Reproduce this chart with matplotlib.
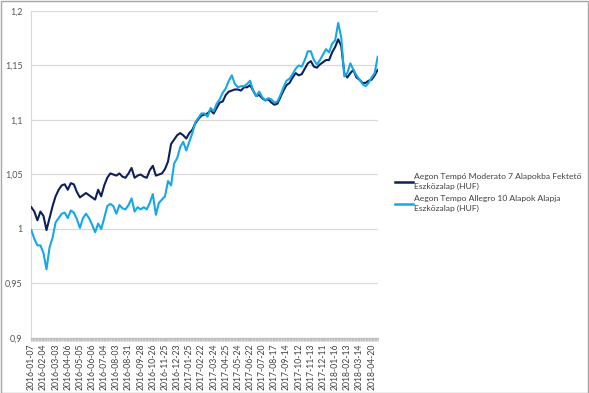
import numpy as np
import matplotlib
matplotlib.use("Agg")
import matplotlib.pyplot as plt
from matplotlib.patches import Rectangle
from matplotlib.ticker import MultipleLocator

# napi kategóriák száma és a címkék (minden 20. kereskedési nap)
N_DAYS = 571
STEP = 5  # az értékek minden 5. napra vannak leolvasva

tick_labels = [
    "2016-01-07", "2016-02-04", "2016-03-03", "2016-04-06", "2016-05-05",
    "2016-06-06", "2016-07-04", "2016-08-03", "2016-08-31", "2016-09-28",
    "2016-10-26", "2016-11-25", "2016-12-23", "2017-01-25", "2017-02-22",
    "2017-03-24", "2017-04-25", "2017-05-24", "2017-06-22", "2017-07-20",
    "2017-08-17", "2017-09-14", "2017-10-12", "2017-11-13", "2017-12-11",
    "2018-01-16", "2018-02-13", "2018-03-14", "2018-04-20",
]

moderato = [
    1.020, 1.016, 1.008, 1.016, 1.012, 0.999, 1.010, 1.021, 1.030, 1.036,
    1.040, 1.041, 1.036, 1.042, 1.041, 1.034, 1.029, 1.031, 1.033, 1.031,
    1.029, 1.027, 1.036, 1.030, 1.040, 1.047, 1.051, 1.050, 1.049, 1.051,
    1.048, 1.047, 1.051, 1.056, 1.047, 1.049, 1.050, 1.048, 1.047, 1.054,
    1.058, 1.049, 1.050, 1.051, 1.055, 1.062, 1.078, 1.082, 1.086, 1.088,
    1.086, 1.083, 1.088, 1.091, 1.097, 1.101, 1.104, 1.105, 1.106, 1.109,
    1.106, 1.111, 1.116, 1.117, 1.123, 1.126, 1.127, 1.128, 1.128, 1.127,
    1.130, 1.130, 1.132, 1.127, 1.122, 1.123, 1.120, 1.118, 1.119, 1.116,
    1.114, 1.115, 1.121, 1.127, 1.132, 1.134, 1.139, 1.143, 1.141, 1.142,
    1.147, 1.152, 1.154, 1.149, 1.148, 1.151, 1.153, 1.155, 1.155, 1.162,
    1.167, 1.174, 1.168, 1.143, 1.139, 1.143, 1.146, 1.139, 1.137, 1.134,
    1.134, 1.136, 1.137, 1.141, 1.146,
]

allegro = [
    0.999, 0.991, 0.985, 0.985, 0.978, 0.963, 0.983, 0.992, 1.006, 1.010,
    1.014, 1.015, 1.010, 1.017, 1.015, 1.009, 1.001, 1.010, 1.014, 1.010,
    1.004, 0.997, 1.005, 1.000, 1.010, 1.021, 1.023, 1.021, 1.014, 1.022,
    1.019, 1.018, 1.022, 1.028, 1.016, 1.020, 1.018, 1.020, 1.018, 1.024,
    1.032, 1.013, 1.024, 1.027, 1.030, 1.044, 1.040, 1.060, 1.065, 1.075,
    1.080, 1.072, 1.080, 1.088, 1.098, 1.102, 1.106, 1.106, 1.103, 1.111,
    1.108, 1.115, 1.119, 1.125, 1.129, 1.136, 1.141, 1.133, 1.130, 1.131,
    1.131, 1.133, 1.136, 1.127, 1.122, 1.126, 1.121, 1.118, 1.120, 1.119,
    1.116, 1.117, 1.123, 1.130, 1.136, 1.138, 1.142, 1.147, 1.150, 1.149,
    1.155, 1.163, 1.163, 1.155, 1.151, 1.155, 1.160, 1.165, 1.162, 1.170,
    1.173, 1.189, 1.176, 1.140, 1.143, 1.152, 1.146, 1.141, 1.137, 1.133,
    1.131, 1.134, 1.139, 1.143, 1.158,
]

labels = [
    "Aegon Tempó Moderato 7 Alapokba Fektető\nEszközalap (HUF)",
    "Aegon Tempo Allegro 10 Alapok Alapja\nEszközalap (HUF)",
]
colors = ["#0f1f5c", "#16a8e6"]

plt.rcParams["font.family"] = ["Lato", "DejaVu Sans"]

fig = plt.figure(figsize=(5.89, 3.93), dpi=100)
ax = fig.add_axes([31 / 589, 1 - 338 / 393, 347 / 589, 327 / 393])

x_mod = np.arange(len(moderato)) * STEP
x_all = np.arange(len(allegro)) * STEP
ax.plot(x_mod, moderato, color=colors[0], lw=1.5, label=labels[0], zorder=3)
ax.plot(x_all, allegro, color=colors[1], lw=1.5, label=labels[1], zorder=4)

ax.set_xlim(-0.5, N_DAYS - 0.5)
ax.set_ylim(0.9, 1.2)

yt = [0.9, 0.95, 1.0, 1.05, 1.1, 1.15, 1.2]
ax.set_yticks(yt)
ax.set_yticklabels([("%g" % v).replace(".", ",") for v in yt])
ax.yaxis.grid(True, color="#d9d9d9", lw=0.9)
ax.set_axisbelow(True)

ax.set_xticks(np.arange(len(tick_labels)) * 20)
ax.set_xticklabels(tick_labels, rotation=90)
ax.xaxis.set_minor_locator(MultipleLocator(1))

ax.tick_params(axis="y", length=0, labelsize=6.5, labelcolor="#595959", pad=6)
ax.tick_params(axis="x", which="major", length=2.5, color="#bfbfbf",
               labelsize=6.2, labelcolor="#404040", pad=1.5)
ax.tick_params(axis="x", which="minor", length=2.5, color="#bfbfbf", width=0.5)

for side in ["top", "right"]:
    ax.spines[side].set_visible(False)
ax.spines["left"].set_color("#d9d9d9")
ax.spines["bottom"].set_color("#bfbfbf")

leg = fig.legend(loc="upper left", bbox_to_anchor=(391 / 589, 1 - 169 / 393),
                 frameon=False, fontsize=6.1, handlelength=2.1, handletextpad=0.1,
                 labelspacing=0.6, borderpad=0)
for t in leg.get_texts():
    t.set_color("#404040")
    t.set_linespacing(1.45)
for h in leg.get_lines():
    h.set_linewidth(1.8)

fig.patches.append(Rectangle((0.5 / 589, 0.5 / 393), 1 - 1.5 / 589, 1 - 1.5 / 393,
                             transform=fig.transFigure, fill=False,
                             edgecolor="#a6a6a6", lw=1))

fig.savefig("out.png", dpi=100)
